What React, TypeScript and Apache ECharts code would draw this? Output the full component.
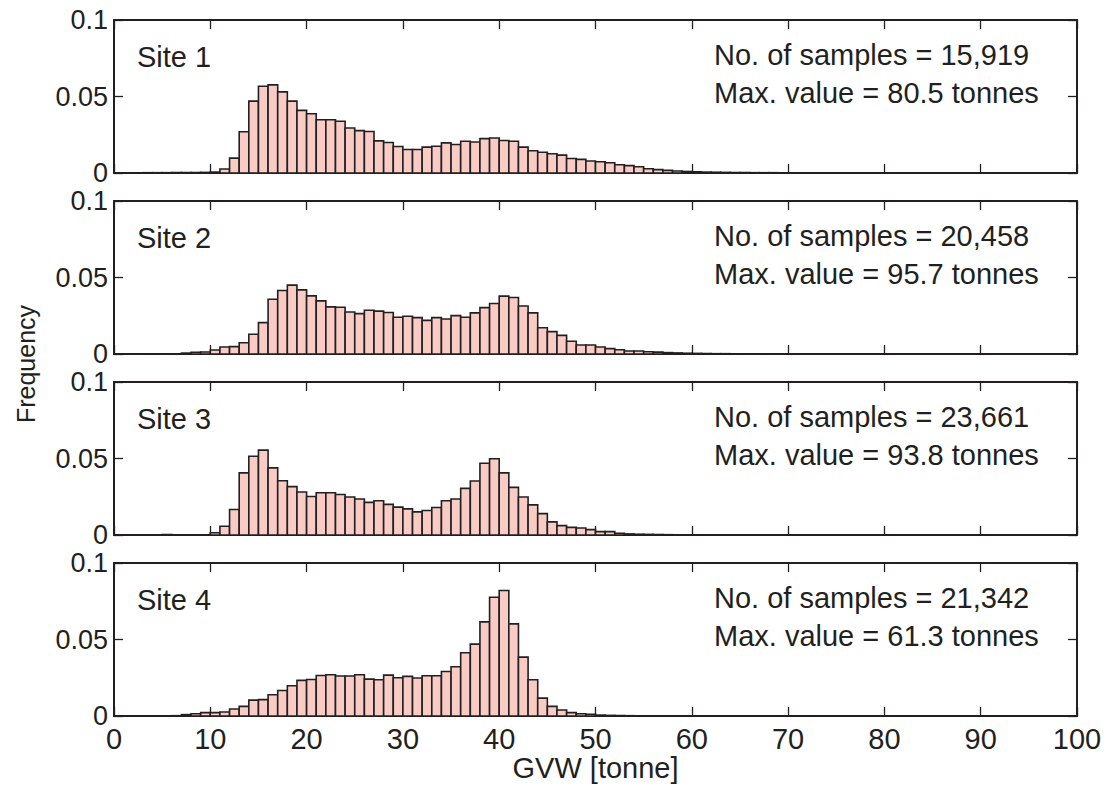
import React, { useEffect, useRef } from 'react';
import * as echarts from 'echarts';

// ---- data ----
const siteNames = ['Site 1', 'Site 2', 'Site 3', 'Site 4'];
const sampleCounts = ['15,919', '20,458', '23,661', '21,342'];
const maxValues = ['80.5', '95.7', '93.8', '61.3'];
const binWidth = 1; // tonne
const xMin = 0;
const xMax = 100;
const xInterval = 10;
const yMin = 0;
const yMax = 0.1;
const yInterval = 0.05;

// frequency per 1-tonne bin, starting at 0 t
const site1 = [
  0, 0, 0, 0.0002, 0.0002, 0.0002, 0.0003, 0.0003, 0.0003, 0.0004,
  0.0006, 0.0026, 0.0097, 0.027, 0.047, 0.0567, 0.0576, 0.053, 0.047, 0.0409,
  0.0387, 0.0348, 0.0348, 0.0338, 0.0294, 0.0277, 0.0271, 0.021, 0.0199, 0.0173,
  0.0154, 0.0154, 0.0169, 0.0175, 0.0197, 0.0186, 0.0208, 0.0203, 0.0225, 0.0229,
  0.0212, 0.0208, 0.0169, 0.0145, 0.0136, 0.0126, 0.0117, 0.0095, 0.0089, 0.0078,
  0.0074, 0.0067, 0.0054, 0.0048, 0.0041, 0.0028, 0.0022, 0.0017, 0.0013, 0.001,
  0.0008, 0.0006, 0.0005, 0.0004, 0.0003, 0.0003, 0.0002, 0.0002, 0.0002, 0.0001,
  0.0001, 0.0001, 0.0001, 0.0001, 0, 0.0001, 0, 0.0001, 0, 0.0001,
  0.0001,
];
const site2 = [
  0, 0.0001, 0.0001, 0.0001, 0.0001, 0.0001, 0.0001, 0.0006, 0.0011, 0.0013,
  0.0026, 0.0046, 0.0048, 0.0074, 0.0129, 0.0205, 0.0358, 0.0415, 0.045, 0.0419,
  0.038, 0.0347, 0.0308, 0.0306, 0.0275, 0.0264, 0.0286, 0.028, 0.0271, 0.024,
  0.0247, 0.0238, 0.022, 0.0238, 0.0229, 0.0251, 0.024, 0.0269, 0.0303, 0.033,
  0.0378, 0.0369, 0.0314, 0.0269, 0.0172, 0.0146, 0.0122, 0.0083, 0.0059, 0.0059,
  0.0046, 0.0035, 0.0028, 0.002, 0.002, 0.0015, 0.0012, 0.0009, 0.0007, 0.0005,
  0.0004, 0.0003, 0.0002, 0.0002, 0.0001, 0.0001, 0.0001, 0.0001, 0.0001, 0.0001,
  0.0001, 0, 0, 0, 0, 0, 0, 0, 0, 0,
  0, 0, 0, 0, 0, 0, 0, 0, 0, 0,
  0, 0, 0, 0, 0, 0.0001,
];
const site3 = [
  0, 0, 0, 0, 0, 0.0003, 0.0001, 0.0001, 0.0001, 0.0001,
  0.0015, 0.0057, 0.0167, 0.0406, 0.0515, 0.0555, 0.0439, 0.0355, 0.0316, 0.0281,
  0.0252, 0.0276, 0.0276, 0.0265, 0.0248, 0.0235, 0.0213, 0.0224, 0.02, 0.0182,
  0.0171, 0.0151, 0.016, 0.018, 0.0224, 0.0235, 0.0305, 0.0353, 0.0469, 0.0498,
  0.0406, 0.0311, 0.0248, 0.0197, 0.014, 0.0086, 0.0061, 0.005, 0.0046, 0.0035,
  0.0022, 0.0022, 0.0011, 0.0007, 0.0005, 0.0004, 0.0003, 0.0002, 0.0001, 0.0001,
  0.0001, 0.0001, 0.0001, 0.0001, 0.0001, 0.0001,
];
const site4 = [
  0, 0, 0, 0, 0, 0, 0.0002, 0.0009, 0.0015, 0.0022,
  0.0022, 0.0026, 0.0046, 0.0063, 0.0104, 0.0107, 0.0139, 0.0167, 0.0198, 0.0233,
  0.0239, 0.0265, 0.027, 0.0261, 0.0261, 0.027, 0.0241, 0.0237, 0.0267, 0.025,
  0.0259, 0.0248, 0.0263, 0.0263, 0.0291, 0.0322, 0.0413, 0.047, 0.0615, 0.0776,
  0.082, 0.0602, 0.0385, 0.0237, 0.0117, 0.0063, 0.0039, 0.0022, 0.0015, 0.0011,
  0.0006, 0.0004, 0.0003, 0.0002, 0.0001, 0.0001, 0.0001, 0.0001, 0.0001, 0.0001,
  0.0001,
];
const siteData = [site1, site2, site3, site4];

// ---- style ----
const INK = '#231f20';
const BAR_FILL = '#f8ccc4';
const FONT = "'Liberation Sans', Arial, Helvetica, sans-serif";
const GRID_LEFT = 114;
const GRID_WIDTH = 963;
const GRID_TOPS = [20, 201, 382, 563];
const GRID_HEIGHT = 153;

export default function App() {
  const ref = useRef<HTMLDivElement>(null);

  useEffect(() => {
    if (!ref.current) return;
    const chart = echarts.init(ref.current, undefined, { renderer: 'svg' });

    const grids: any[] = [];
    const xAxes: any[] = [];
    const yAxes: any[] = [];
    const series: any[] = [];
    const graphics: any[] = [];

    GRID_TOPS.forEach((top, i) => {
      const last = i === GRID_TOPS.length - 1;
      grids.push({ left: GRID_LEFT, width: GRID_WIDTH, top, height: GRID_HEIGHT, containLabel: false });
      const axisLine = { show: true, onZero: false, lineStyle: { color: INK, width: 2 } };
      const axisTick = { show: true, inside: true, length: 9, lineStyle: { color: INK, width: 1.3 } };
      xAxes.push({
        type: 'value', gridIndex: i, position: 'bottom', min: xMin, max: xMax, interval: xInterval,
        axisLine, axisTick, splitLine: { show: false },
        axisLabel: { show: last, color: INK, fontSize: 29, fontFamily: FONT, margin: 8 },
        name: last ? 'GVW [tonne]' : '', nameLocation: 'middle', nameGap: 37,
        nameTextStyle: { color: INK, fontSize: 29, fontFamily: FONT },
      });
      xAxes.push({
        type: 'value', gridIndex: i, position: 'top', min: xMin, max: xMax, interval: xInterval,
        axisLine, axisTick, splitLine: { show: false }, axisLabel: { show: false },
      });
      yAxes.push({
        type: 'value', gridIndex: i, position: 'left', min: yMin, max: yMax, interval: yInterval,
        axisLine, axisTick, splitLine: { show: false },
        axisLabel: { show: true, color: INK, fontSize: 27, lineHeight: 25, fontFamily: FONT, margin: 6 },
      });
      yAxes.push({
        type: 'value', gridIndex: i, position: 'right', min: yMin, max: yMax, interval: yInterval,
        axisLine, axisTick, splitLine: { show: false }, axisLabel: { show: false },
      });

      const data = siteData[i]
        .map((v, k) => [xMin + k * binWidth, xMin + (k + 1) * binWidth, v])
        .filter((d) => d[2] > 0);
      series.push({
        type: 'custom',
        xAxisIndex: 2 * i,
        yAxisIndex: 2 * i,
        data,
        encode: { x: [0, 1], y: 2 },
        clip: true,
        z: 1,
        renderItem: (params: any, api: any) => {
          const p0 = api.coord([api.value(0), api.value(2)]);
          const p1 = api.coord([api.value(1), 0]);
          return {
            type: 'rect',
            shape: { x: p0[0], y: p0[1], width: p1[0] - p0[0], height: p1[1] - p0[1] },
            style: { fill: BAR_FILL, stroke: INK, lineWidth: 1.6 },
          };
        },
      });

      const textStyle = { fill: INK, fontSize: 29, fontFamily: FONT, verticalAlign: 'middle', align: 'left' };
      graphics.push({ type: 'text', x: 137, y: top + 37, style: { ...textStyle, text: siteNames[i] } });
      graphics.push({ type: 'text', x: 714, y: top + 35, style: { ...textStyle, text: `No. of samples = ${sampleCounts[i]}` } });
      graphics.push({ type: 'text', x: 714, y: top + 73, style: { ...textStyle, text: `Max. value = ${maxValues[i]} tonnes` } });
    });

    graphics.push({
      type: 'text', x: 26, y: 364, rotation: Math.PI / 2,
      style: { text: 'Frequency', fill: INK, fontSize: 25, fontFamily: FONT, align: 'center', verticalAlign: 'middle' },
    });

    chart.setOption({
      animation: false,
      backgroundColor: '#ffffff',
      grid: grids,
      xAxis: xAxes,
      yAxis: yAxes,
      series,
      graphic: graphics,
    });

    return () => chart.dispose();
  }, []);

  return <div ref={ref} style={{ position: 'absolute', left: 0, top: 0, width: 1114, height: 791 }} />;
}
